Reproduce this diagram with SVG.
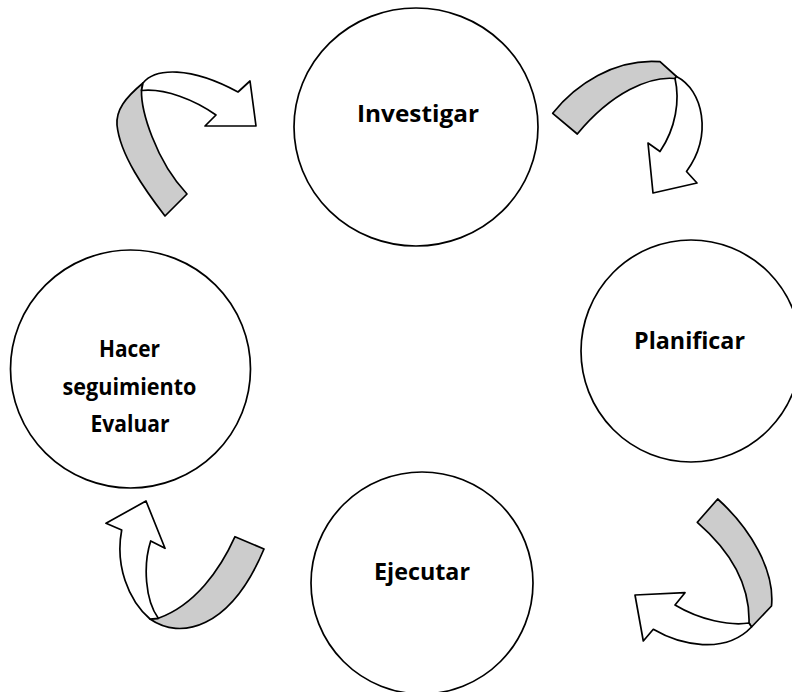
<svg xmlns="http://www.w3.org/2000/svg" width="792" height="692" viewBox="0 0 792 692">
<style>
.node{fill:#ffffff;stroke:#000000;stroke-width:1.7}
.lbl{font-family:"Open Sans","Liberation Sans",sans-serif;font-weight:bold;font-size:24px;fill:#000000;text-anchor:middle}
.band{fill:#cccccc;stroke:#000000;stroke-width:1.7;stroke-linejoin:round}
.head{fill:#ffffff;stroke:#000000;stroke-width:1.7;stroke-linejoin:round}
</style>
<rect x="0" y="0" width="792" height="692" fill="#ffffff"/>
<g id="connectors">
  <g id="arrow-evaluar-investigar">
    <path class="band" d="M165,216 C145,190 120,155 117,125 C116,110 125,98 143,83 L141.5,90.5 C141,110 155,160 187,194 Z"/>
    <path class="head" d="M143,83 C155,68 190,66 238,92 L250,81 L256,126 L205,126 L216,115 C195,100 165,88 141.5,90.5 Z"/>
  </g>
  <g id="arrow-investigar-planificar">
    <path class="band" d="M552.7,113.3 C575,85 615,58 660,61.7 L676.5,76.5 L675,78.5 C650,76 612,92 577.3,134 Z"/>
    <path class="head" d="M676.5,76.5 C703,90 713,135 686.5,171.5 L697,183 L653,193 L648,143 L660,151.5 C676,128 680,100 675,78.5 Z"/>
  </g>
  <g id="arrow-planificar-ejecutar">
    <path class="band" d="M717.7,499 C750,528 775,570 771.5,606 L751.5,627 L749,623 C750,590 735,555 697.3,522.3 Z"/>
    <path class="head" d="M749,623 C730,626 700,620 675,605 L685,592.7 L635,595 L643.3,641 L653.3,629.3 C680,645 725,655 751.5,627 Z"/>
  </g>
  <g id="arrow-ejecutar-evaluar">
    <path class="band" d="M235,536.7 C220,570 195,605 158.3,618.3 L150,619 C180,640 230,630 264,549 Z"/>
    <path class="head" d="M150,619 C128,600 115,565 121.7,530 L106,523.3 L146,501 L165,548.3 L150.7,541 C143,565 145,600 158.3,618.3 Z"/>
  </g>
</g>
<g id="node-investigar">
  <ellipse class="node" cx="416" cy="127" rx="122" ry="119"/>
  <text class="lbl" x="418" y="122" textLength="122" lengthAdjust="spacingAndGlyphs">Investigar</text>
</g>
<g id="node-planificar">
  <ellipse class="node" cx="691" cy="351" rx="110" ry="111"/>
  <text class="lbl" x="689.5" y="349" textLength="111" lengthAdjust="spacingAndGlyphs">Planificar</text>
</g>
<g id="node-ejecutar">
  <ellipse class="node" cx="422" cy="583" rx="111" ry="111"/>
  <text class="lbl" x="422" y="580" textLength="96" lengthAdjust="spacingAndGlyphs">Ejecutar</text>
</g>
<g id="node-evaluar">
  <ellipse class="node" cx="130.5" cy="369" rx="120" ry="119"/>
  <text class="lbl" x="129.5" y="357" textLength="61" lengthAdjust="spacingAndGlyphs">Hacer</text>
  <text class="lbl" x="129.5" y="394.5" textLength="134" lengthAdjust="spacingAndGlyphs">seguimiento</text>
  <text class="lbl" x="130" y="431.5" textLength="79" lengthAdjust="spacingAndGlyphs">Evaluar</text>
</g>
</svg>
